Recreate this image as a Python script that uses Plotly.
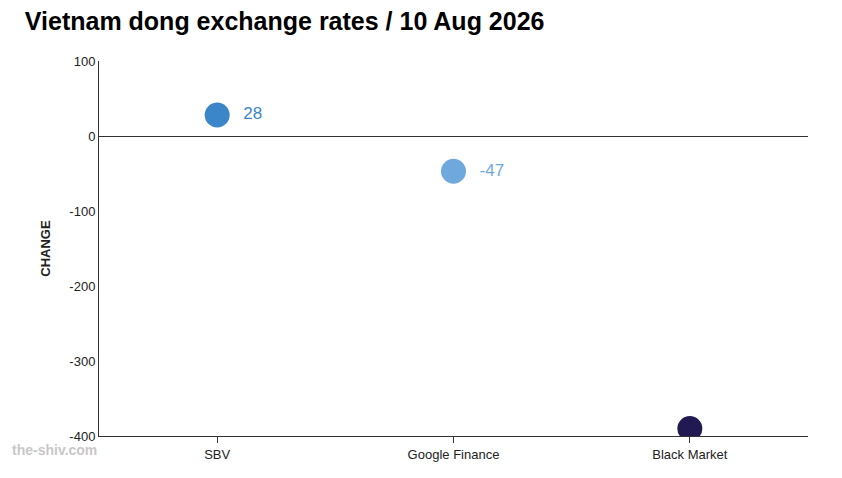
import plotly.graph_objects as go

sources = ['SBV', 'Google Finance', 'Black Market']
changes = [28, -47, -390]
labels = ['  28', '  -47', '']
colors = ['#3b86c9', '#6fa8dc', '#211a52']
tick_vals = [100, 0, -100, -200, -300, -400]
tick_text = ['100', '0', '-100', '-200', '-300', '-400']

fig = go.Figure(go.Scatter(
    x=sources, y=changes, mode='markers+text',
    text=labels, textposition='middle right',
    textfont=dict(size=17, color=colors),
    marker=dict(size=25, color=colors),
    cliponaxis=True, hoverinfo='skip',
))

fig.update_layout(
    width=842, height=478,
    margin=dict(l=91, r=42, t=53, b=50),
    plot_bgcolor='white', paper_bgcolor='white',
    font=dict(family='Liberation Sans, Arial', size=13, color='#222'),
    title=dict(text='<b>Vietnam dong exchange rates / 10 Aug 2026</b>',
               x=0.02, y=0.99, yanchor='top', font=dict(size=25, color='black')),
    showlegend=False,
)
fig.update_yaxes(range=[-400, 100], tickvals=tick_vals, ticktext=tick_text,
                 showgrid=False, showline=True, linecolor='#333', zeroline=True,
                 zerolinecolor='#333', zerolinewidth=1,
                 title=dict(text='<b>CHANGE</b>', font=dict(size=13)))
fig.update_xaxes(range=[-0.5, 2.5], showgrid=False, showline=True, linecolor='#333',
                 ticks='outside', ticklen=6, tickcolor='#333')
fig.add_annotation(text='<b>the-shiv.com</b>', xref='paper', yref='paper',
                   x=-0.125, y=-0.065, xanchor='left', showarrow=False,
                   font=dict(size=14, color='#c8c8c8'))

fig.write_html('out.html')
